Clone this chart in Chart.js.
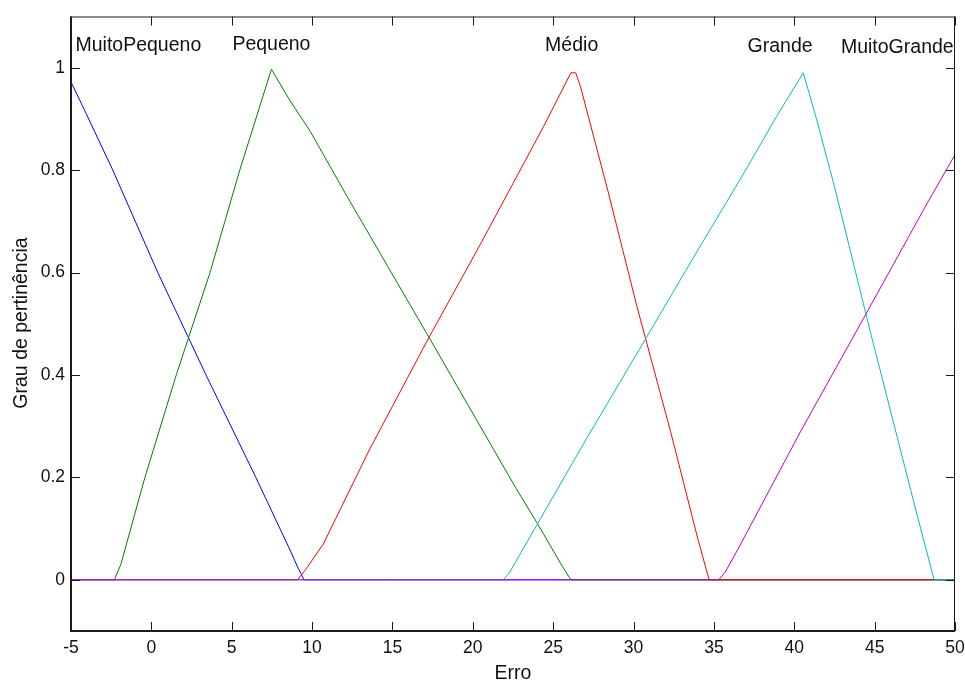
<!DOCTYPE html>
<html>
<head>
<meta charset="utf-8">
<script src="https://cdn.jsdelivr.net/npm/chart.js@4.4.1/dist/chart.umd.min.js"></script>
<style>
  body { margin: 0; background: #fff; }
  canvas { display: block; }
</style>
</head>
<body>
<canvas id="myChart" width="965" height="681"></canvas>
<script>
// funcoes de pertinencia (x = erro, y = grau)
const muitoPequenoX = [-5, -4.2, -2.4, 0.4, 3.4, 6.5, 8.6, 9.1, 9.5, 50];
const muitoPequenoY = [0.972, 0.92, 0.8, 0.6, 0.4, 0.2, 0.06, 0.025, 0, 0];

const pequenoX = [-5, -2.3, -1.9, -0.4, 1.55, 3.65, 5.5, 7.47, 8.6, 9.9, 12.15, 17.3, 22.7, 24, 25.5, 26.1, 50];
const pequenoY = [0, 0, 0.03, 0.2, 0.4, 0.6, 0.8, 0.997, 0.937, 0.875, 0.75, 0.472, 0.178, 0.111, 0.03, 0, 0];

const medioX = [-5, 9.1, 9.6, 10.7, 13.6, 17.3, 20.45, 22.5, 24.4, 26.1, 26.4, 26.7, 28.4, 30.2, 32.3, 34.0, 34.7, 50];
const medioY = [0, 0, 0.02, 0.07, 0.256, 0.475, 0.654, 0.774, 0.885, 0.99, 0.99, 0.963, 0.76, 0.535, 0.29, 0.08, 0, 0];

const grandeX = [-5, 21.9, 22.3, 24, 27.1, 30.8, 33.7, 36.9, 38.9, 40.56, 41.4, 42.5, 44.75, 47.45, 48.7, 50];
const grandeY = [0, 0, 0.015, 0.108, 0.277, 0.473, 0.628, 0.796, 0.905, 0.99, 0.898, 0.768, 0.482, 0.15, 0, 0];

const muitoGrandeX = [-5, 35.3, 35.7, 36.5, 40.4, 44.3, 48.3, 50];
const muitoGrandeY = [0, 0, 0.015, 0.06, 0.29, 0.51, 0.737, 0.83];

// rotulos das funcoes
const labelNames = ["MuitoPequeno", "Pequeno", "Médio", "Grande", "MuitoGrande"];
const labelX = [-0.81, 7.47, 26.15, 39.12, 46.41];
const labelY = [1.033, 1.0345, 1.033, 1.031, 1.028];

const xTicks = [-5, 0, 5, 10, 15, 20, 25, 30, 35, 40, 45, 50];
const yTicks = [0, 0.2, 0.4, 0.6, 0.8, 1];

const FONT = '"Liberation Sans", Arial, sans-serif';

function toPoints(xs, ys) {
  return xs.map((x, i) => ({ x: x, y: ys[i] }));
}

function makeSet(label, xs, ys, color, order) {
  return {
    label: label,
    data: toPoints(xs, ys),
    borderColor: color,
    borderWidth: 1,
    pointRadius: 0,
    showLine: true,
    fill: false,
    tension: 0,
    order: order,
  };
}

// caixa, ticks para dentro, rotulos e titulos dos eixos
const boxPlugin = {
  id: "box",
  afterDraw(chart) {
    const ctx = chart.ctx;
    const a = chart.chartArea;
    const xs = chart.scales.x;
    const ys = chart.scales.y;
    const tl = 9;
    ctx.save();
    ctx.strokeStyle = "#1a1a1a";
    ctx.lineWidth = 1;
    xTicks.forEach(v => {
      const px = Math.round(xs.getPixelForValue(v)) + 0.5;
      ctx.beginPath();
      ctx.moveTo(px, a.bottom); ctx.lineTo(px, a.bottom - tl);
      ctx.moveTo(px, a.top); ctx.lineTo(px, a.top + tl);
      ctx.stroke();
    });
    yTicks.forEach(v => {
      const py = Math.round(ys.getPixelForValue(v)) + 0.5;
      ctx.beginPath();
      ctx.moveTo(a.left, py); ctx.lineTo(a.left + tl, py);
      ctx.moveTo(a.right, py); ctx.lineTo(a.right - tl, py);
      ctx.stroke();
    });
    // topo e direita
    ctx.beginPath();
    ctx.moveTo(a.left, a.top + 0.5); ctx.lineTo(a.right, a.top + 0.5);
    ctx.moveTo(a.right - 0.5, a.top); ctx.lineTo(a.right - 0.5, a.bottom);
    ctx.stroke();
    // esquerda e baixo mais grossos
    ctx.lineWidth = 2;
    ctx.beginPath();
    ctx.moveTo(a.left, a.top); ctx.lineTo(a.left, a.bottom);
    ctx.lineTo(a.right, a.bottom);
    ctx.stroke();

    ctx.fillStyle = "#111";
    ctx.font = "19.5px " + FONT;
    ctx.textAlign = "center";
    ctx.textBaseline = "alphabetic";
    labelNames.forEach((name, i) => {
      ctx.fillText(name, xs.getPixelForValue(labelX[i]), ys.getPixelForValue(labelY[i]));
    });

    ctx.fillText("Erro", (a.left + a.right) / 2, 679);
    ctx.translate(27, 323);
    ctx.rotate(-Math.PI / 2);
    ctx.fillText("Grau de pertinência", 0, 0);
    ctx.restore();
  }
};

let ctx = document.getElementById("myChart").getContext("2d");
let myChart = new Chart(ctx, {
  type: "scatter",
  data: {
    datasets: [
      makeSet("MuitoPequeno", muitoPequenoX, muitoPequenoY, "#0000ff", 5),
      makeSet("Pequeno", pequenoX, pequenoY, "#008000", 4),
      makeSet("Médio", medioX, medioY, "#ff0000", 3),
      makeSet("Grande", grandeX, grandeY, "#00bfbf", 2),
      makeSet("MuitoGrande", muitoGrandeX, muitoGrandeY, "#bf00bf", 1),
    ],
  },
  options: {
    responsive: false,
    animation: false,
    devicePixelRatio: 1,
    layout: { padding: { top: 15, right: 0, left: 0, bottom: 0 } },
    plugins: {
      legend: { display: false },
      tooltip: { enabled: false },
    },
    scales: {
      x: {
        type: "linear",
        min: -5,
        max: 50,
        afterBuildTicks: s => { s.ticks = xTicks.map(v => ({ value: v })); },
        afterFit: s => { s.height = 50; s.paddingRight = 10; },
        grid: { display: false, drawTicks: false },
        border: { display: false },
        ticks: {
          color: "#111",
          font: { size: 17.5, family: FONT },
          padding: 7,
          maxRotation: 0,
          callback: v => String(v),
        },
      },
      y: {
        type: "linear",
        min: -0.1,
        max: 1.1,
        afterBuildTicks: s => { s.ticks = yTicks.map(v => ({ value: v })); },
        afterFit: s => { s.width = 71; },
        grid: { display: false, drawTicks: false },
        border: { display: false },
        ticks: {
          color: "#111",
          font: { size: 17.5, family: FONT },
          padding: 6,
          callback: v => String(v),
        },
      },
    },
  },
  plugins: [boxPlugin],
});
</script>
</body>
</html>
